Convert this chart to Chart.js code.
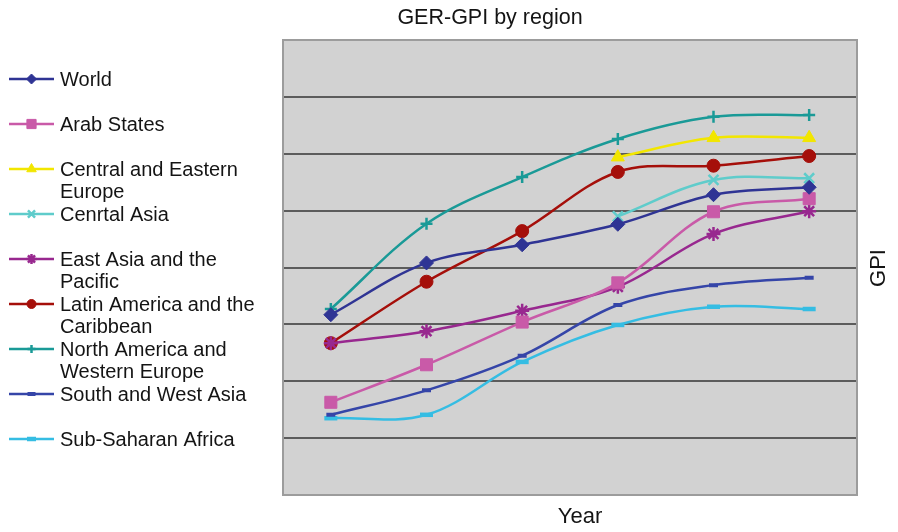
<!DOCTYPE html>
<html>
<head>
<meta charset="utf-8">
<title>GER-GPI by region</title>
<script src="https://cdn.jsdelivr.net/npm/chart.js@4.4.1/dist/chart.umd.min.js"></script>
<style>
  html, body { margin: 0; padding: 0; background: #ffffff; }
  #wrap { width: 898px; height: 532px; position: relative; }
</style>
</head>
<body>
<div id="wrap"><canvas id="chart" width="898" height="532"></canvas></div>
<script>
// Survey years (not labelled on the axis)
const years = ['1970', '1975', '1980', '1985', '1990', '1995'];

// Gender parity index of gross enrolment, by region
const world                = [0.617, 0.708, 0.740, 0.776, 0.828, 0.841];
const arabStates           = [0.463, 0.529, 0.604, 0.673, 0.798, 0.821];
const centralEastEurope    = [null, null, null, 0.894, 0.928, 0.928];
const centralAsia          = [null, null, null, 0.790, 0.854, 0.857];
const eastAsiaPacific      = [0.567, 0.588, 0.624, 0.666, 0.759, 0.799];
const latinAmerica         = [0.567, 0.675, 0.764, 0.868, 0.879, 0.896];
const northAmericaWEurope  = [0.627, 0.777, 0.859, 0.926, 0.965, 0.968];
const southWestAsia        = [0.441, 0.484, 0.545, 0.634, 0.669, 0.682];
const subSaharanAfrica     = [0.435, 0.441, 0.534, 0.599, 0.631, 0.627];

const regionNames = [
  'World', 'Arab States', 'Central and Eastern Europe', 'Cenrtal Asia',
  'East Asia and the Pacific', 'Latin America and the Caribbean',
  'North America and Western Europe', 'South and West Asia', 'Sub-Saharan Africa'
];

const yMin = 0.3, yMax = 1.1, yStep = 0.1;

function series(label, data, color, pointStyle, radius, pointBorder) {
  return {
    label, data,
    borderColor: color,
    backgroundColor: color,
    pointBackgroundColor: color,
    pointBorderColor: color,
    pointStyle,
    pointRadius: radius,
    pointBorderWidth: pointBorder,
    borderWidth: 2.5,
    tension: 0.35,
    spanGaps: false,
    fill: false
  };
}

const datasets = [
  series(regionNames[0], world,               '#2f3494', 'rectRot',  7, 1),
  series(regionNames[1], arabStates,          '#c95aa8', 'rect',     8.5, 1),
  series(regionNames[2], centralEastEurope,   '#f2e600', 'triangle', 7.5, 1),
  series(regionNames[3], centralAsia,         '#5fcccb', 'crossRot', 7, 2.5),
  series(regionNames[4], eastAsiaPacific,     '#98288f', 'star',     7, 2.5),
  series(regionNames[5], latinAmerica,        '#a50f0a', 'circle',   6.5, 1),
  series(regionNames[6], northAmericaWEurope, '#1a9a97', 'cross',    6, 2.5),
  series(regionNames[7], southWestAsia,       '#3545a8', 'line',     4.5, 4),
  series(regionNames[8], subSaharanAfrica,    '#35bde3', 'line',     6.5, 4.5)
];

const FONT = '"Liberation Sans", Arial, sans-serif';
const TEXT = '#141414';

// Grey plot panel with a thin frame
const panel = {
  id: 'panel',
  beforeDraw(chart) {
    const { ctx, chartArea: a } = chart;
    ctx.save();
    ctx.fillStyle = '#d2d2d2';
    ctx.fillRect(a.left, a.top, a.right - a.left, a.bottom - a.top);
    ctx.restore();
  },
  beforeDatasetsDraw(chart) {
    const { ctx, chartArea: a } = chart;
    ctx.save();
    ctx.strokeStyle = '#9c9c9c';
    ctx.lineWidth = 2;
    ctx.strokeRect(a.left, a.top, a.right - a.left, a.bottom - a.top);
    ctx.restore();
  }
};

function wrapText(ctx, text, maxWidth) {
  const words = text.split(' ');
  const lines = [];
  let cur = '';
  for (const w of words) {
    const t = cur ? cur + ' ' + w : w;
    if (cur && ctx.measureText(t).width > maxWidth) { lines.push(cur); cur = w; }
    else cur = t;
  }
  if (cur) lines.push(cur);
  return lines;
}

// Title, axis titles and the left-hand legend
const annotations = {
  id: 'annotations',
  afterDraw(chart) {
    const { ctx } = chart;
    ctx.save();
    ctx.fillStyle = TEXT;
    ctx.textBaseline = 'middle';

    ctx.font = '21.5px ' + FONT;
    ctx.textAlign = 'center';
    ctx.fillText('GER-GPI by region', 490, 18);

    ctx.font = '22px ' + FONT;
    ctx.fillText('Year', 580, 517);

    ctx.save();
    ctx.translate(879, 268);
    ctx.rotate(-Math.PI / 2);
    ctx.font = '22px ' + FONT;
    ctx.fillText('GPI', 0, 0);
    ctx.restore();

    // Legend
    ctx.font = '20px ' + FONT;
    ctx.textAlign = 'left';
    chart.data.datasets.forEach((ds, i) => {
      const y = 79 + i * 45;
      ctx.strokeStyle = ds.borderColor;
      ctx.lineWidth = 2.5;
      ctx.beginPath();
      ctx.moveTo(9, y);
      ctx.lineTo(54, y);
      ctx.stroke();

      ctx.fillStyle = ds.pointBackgroundColor;
      ctx.strokeStyle = ds.pointBorderColor;
      ctx.lineWidth = ds.pointBorderWidth;
      Chart.helpers.drawPoint(ctx, {
        pointStyle: ds.pointStyle,
        radius: Math.max(4, ds.pointRadius - 2),
        rotation: 0,
        borderWidth: ds.pointBorderWidth
      }, 31.5, y);

      ctx.fillStyle = TEXT;
      wrapText(ctx, ds.label, 205).forEach((line, k) => {
        ctx.fillText(line, 60, y + 1 + k * 22);
      });
    });
    ctx.restore();
  }
};

new Chart(document.getElementById('chart'), {
  type: 'line',
  data: { labels: years, datasets },
  options: {
    responsive: false,
    animation: false,
    layout: { padding: { left: 283, top: 40, right: 0, bottom: 0 } },
    plugins: {
      legend: { display: false },
      title: { display: false },
      tooltip: { enabled: false }
    },
    scales: {
      x: {
        type: 'category',
        offset: true,
        grid: { display: false, drawTicks: false },
        border: { display: false },
        ticks: { display: false },
        afterFit(scale) { scale.height = 37; }
      },
      y: {
        position: 'right',
        min: yMin,
        max: yMax,
        ticks: { display: false, stepSize: yStep },
        border: { display: false },
        grid: {
          drawTicks: false,
          lineWidth: 2,
          color(c) {
            const v = c.tick ? c.tick.value : 0;
            return (v <= yMin + 1e-6 || v >= yMax - 1e-6) ? 'rgba(0,0,0,0)' : '#5c5c5c';
          }
        },
        afterFit(scale) { scale.width = 41; }
      }
    }
  },
  plugins: [panel, annotations]
});
</script>
</body>
</html>
